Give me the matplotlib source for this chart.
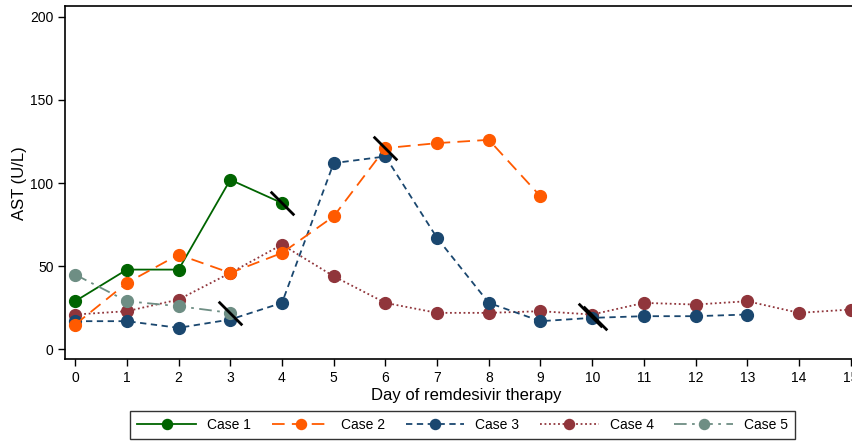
import matplotlib
matplotlib.use("Agg")
import matplotlib.pyplot as plt
from matplotlib.path import Path

plt.rcParams['font.family'] = ['Liberation Sans', 'DejaVu Sans']

# AST values per case
days1 = [0, 1, 2, 3, 4]
case1 = [29, 48, 48, 102, 88]
days2 = [0, 1, 2, 3, 4, 5, 6, 7, 8, 9]
case2 = [15, 40, 57, 46, 58, 80, 121, 124, 126, 92]
days3 = [0, 1, 2, 3, 4, 5, 6, 7, 8, 9, 10, 11, 12, 13]
case3 = [17, 17, 13, 18, 28, 112, 116, 67, 28, 17, 19, 20, 20, 21]
days4 = [0, 1, 2, 3, 4, 5, 6, 7, 8, 9, 10, 11, 12, 13, 14, 15]
case4 = [21, 23, 30, 46, 63, 44, 28, 22, 22, 23, 21, 28, 27, 29, 22, 24]
days5 = [0, 1, 2, 3]
case5 = [45, 29, 26, 22]

# end-of-therapy marks
slash_days = [4, 6, 3, 9.95, 10.05]
slash_vals = [88, 121, 22, 21, 19]

labels = ['Case 1', 'Case 2', 'Case 3', 'Case 4', 'Case 5']
colors = ['#006400', '#ff5a00', '#1a476f', '#90353b', '#6e8e84']
styles = ['-', (0, (7, 4)), (0, (3.5, 2.5)), (0, (1, 1.5)), (0, (7, 3, 1.5, 3))]
zorders = [2.2, 2.3, 2.1, 2.0, 2.4]

fig = plt.figure(figsize=(8.52, 4.41), dpi=100)
ax = fig.add_axes([0.0767, 0.1853, 0.940, 0.801])

series = [(days1, case1), (days2, case2), (days3, case3), (days4, case4), (days5, case5)]
handles = []
for (x, y), lab, c, ls, z in zip(series, labels, colors, styles, zorders):
    h, = ax.plot(x, y, linestyle=ls, color=c, marker='o', markersize=8.5,
                 linewidth=1.3, label=lab, zorder=z)
    handles.append(h)

slash = Path([(-1, 1), (1, -1)], [Path.MOVETO, Path.LINETO])
ax.plot(slash_days, slash_vals, linestyle='none', marker=slash, markersize=17,
        markeredgewidth=2, color='black', zorder=5)

ax.set_xlim(-0.19, 15.3)
ax.set_ylim(-5.9, 206.4)
ax.set_xticks(range(0, 16))
ax.set_yticks([0, 50, 100, 150, 200])
ax.spines['right'].set_visible(False)
for s in ['left', 'bottom', 'top']:
    ax.spines[s].set_linewidth(1.2)
ax.tick_params(direction='out', length=5, width=1, labelsize=10)
ax.set_xlabel('Day of remdesivir therapy', fontsize=12, labelpad=2)
ax.set_ylabel('AST (U/L)', fontsize=12, labelpad=2)

leg = fig.legend(handles=handles, loc='lower center', bbox_to_anchor=(0.543, 0.0),
                 ncol=5, fontsize=10, frameon=True, fancybox=False,
                 edgecolor='black', handlelength=4.2, columnspacing=1.5,
                 borderpad=0.5, borderaxespad=0.15, markerscale=0.85)
leg.get_frame().set_linewidth(1.0)

fig.savefig('out.png', dpi=100)
